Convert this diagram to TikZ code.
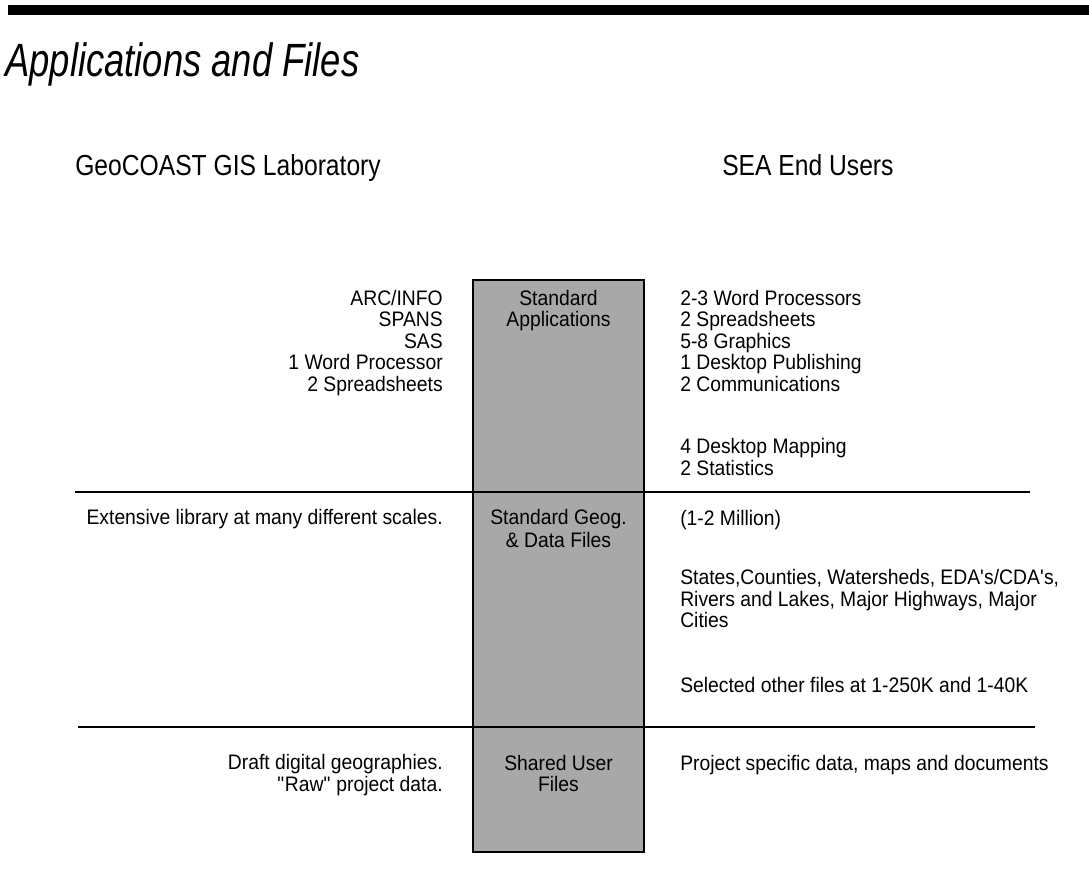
\documentclass[tikz,border=0pt]{standalone}
\usepackage{fontspec}
\setmainfont[FakeStretch=0.92]{Liberation Sans}
\newfontfamily\titlefont[FakeStretch=0.78]{Liberation Sans}
\newfontfamily\headfont[FakeStretch=0.85]{Liberation Sans}
\definecolor{halftone}{gray}{0.66}
\begin{document}
\begin{tikzpicture}[x=0.75pt,y={(0,-0.75pt)},
  body/.style={inner sep=0pt, font=\fontsize{15.75pt}{16pt}\selectfont},
  rcol/.style={body, anchor=base east},
  lcol/.style={body, anchor=base west},
  mcol/.style={body, anchor=base},
  head/.style={inner sep=0pt, anchor=base west, font=\headfont\fontsize{21.75pt}{22pt}\selectfont},
  corebox/.style={draw=black, line width=1.5pt, fill=halftone, inner sep=0pt},
  sep/.style={line width=1.6pt, draw=black}]
\useasboundingbox (0,0) rectangle (1089,887);

% top bar
\fill[black] (8,5) rectangle (1089,15);

% title
\node (title) [inner sep=0pt, anchor=base west, font=\titlefont\itshape\fontsize{35pt}{36pt}\selectfont] at (5,77) {Applications and Files};

% column heads
\node (lab) [head] at (75,176) {GeoCOAST GIS Laboratory};
\node (sea) [head] at (722,176) {SEA End Users};

% central box
\node (core) [corebox, minimum width=128.25pt, minimum height=429pt] at (558.5,566) {};

% separators
\coordinate (u1) at (75,492);
\coordinate (u2) at (1030,492);
\coordinate (d1) at (78,727);
\coordinate (d2) at (1035,727);
\draw[sep] (u1) -- (u2);
\draw[sep] (d1) -- (d2);

% --- upper section ---
\node (l1) [rcol] at (443,305.5) {ARC/INFO};
\node (l2) [rcol] at (443,327) {SPANS};
\node (l3) [rcol] at (443,348.5) {SAS};
\node (l4) [rcol] at (443,370) {1 Word Processor};
\node (l5) [rcol] at (443,391.5) {2 Spreadsheets};

\node (b1) [mcol] at (558.5,305.5) {Standard};
\node (b2) [mcol] at (558.5,327) {Applications};

\node (r1) [lcol] at (680,305.5) {2-3 Word Processors};
\node (r2) [lcol] at (680,327) {2 Spreadsheets};
\node (r3) [lcol] at (680,348.5) {5-8 Graphics};
\node (r4) [lcol] at (680,370) {1 Desktop Publishing};
\node (r5) [lcol] at (680,391.5) {2 Communications};
\node (r6) [lcol] at (680,454) {4 Desktop Mapping};
\node (r7) [lcol] at (680,476) {2 Statistics};

% --- middle section ---
\node (l6) [rcol] at (443,524.5) {Extensive library at many different scales.};
\node (b3) [mcol] at (558.5,524.5) {Standard Geog.};
\node (b4) [mcol] at (558.5,547) {\& Data Files};
\node (r8) [lcol] at (680,525.5) {(1-2 Million)};
\node (r9) [lcol] at (680,584.5) {States,Counties, Watersheds, EDA\textquotesingle s/CDA\textquotesingle s,};
\node (r10) [lcol] at (680,606) {Rivers and Lakes, Major Highways, Major};
\node (r11) [lcol] at (680,627.5) {Cities};
\node (r12) [lcol] at (680,692.5) {Selected other files at 1-250K and 1-40K};

% --- lower section ---
\node (l7) [rcol] at (443,769.5) {Draft digital geographies.};
\node (l8) [rcol] at (443,791) {\textquotedbl Raw\textquotedbl{} project data.};
\node (b5) [mcol] at (558.5,770) {Shared User};
\node (b6) [mcol] at (558.5,791.5) {Files};
\node (r13) [lcol] at (680,770.5) {Project specific data, maps and documents};
\end{tikzpicture}
\end{document}
